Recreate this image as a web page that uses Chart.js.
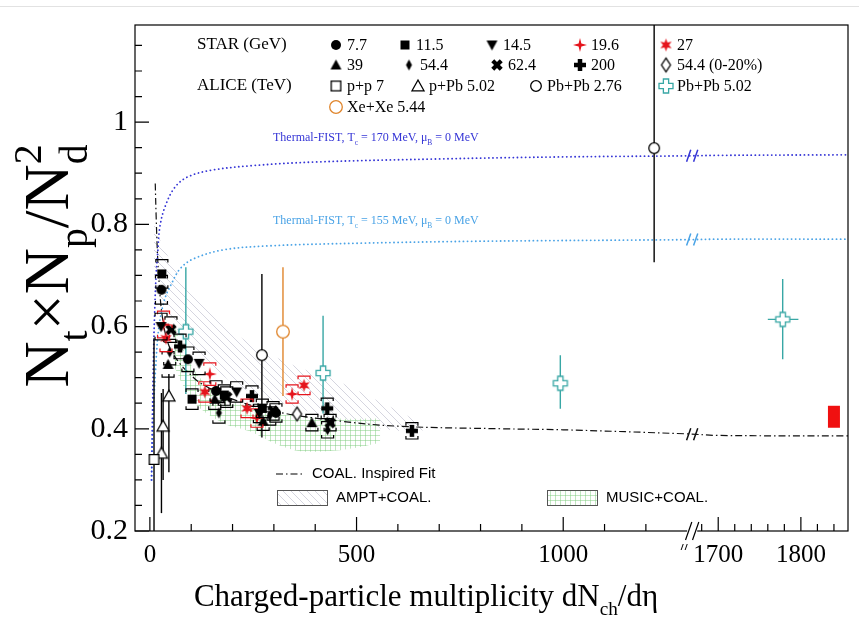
<!DOCTYPE html>
<html lang="en">
<head>
<meta charset="UTF-8">
<title>Nt x Np / Nd^2 vs dNch/deta</title>
<script src="https://cdn.jsdelivr.net/npm/chart.js"></script>
<style>
  body { margin: 0; background: #fff; }
  #wrap { position: relative; width: 859px; height: 631px; }
  #topline { position: absolute; left: 0; top: 6px; width: 859px; height: 1px; background: #e2e2e2; }
  canvas { position: absolute; left: 0; top: 0; }
</style>
</head>
<body>
<div id="wrap">
  <div id="topline"></div>
  <canvas id="grafico" width="859" height="631"></canvas>
</div>
<script>
// ---- values: x = dNch/deta, y = Nt*Np/Nd^2 ----
// STAR Au+Au (GeV), with systematic half-widths
const star7_7_x = [28, 92, 160, 305];
const star7_7_y = [0.672, 0.536, 0.474, 0.431];
const star7_7_sys = [0.028, 0.024, 0.02, 0.018];
const star11_5_x = [29, 102, 180, 272];
const star11_5_y = [0.703, 0.458, 0.466, 0.440];
const star11_5_sys = [0.028, 0.02, 0.02, 0.018];
const star14_5_x = [27, 119, 210, 265];
const star14_5_y = [0.600, 0.528, 0.472, 0.430];
const star14_5_sys = [0.026, 0.022, 0.02, 0.018];
const star19_6_x = [33, 145, 259, 344];
const star19_6_y = [0.604, 0.507, 0.421, 0.468];
const star19_6_sys = [0.026, 0.022, 0.018, 0.018];
const star27_x = [39, 133, 235, 373];
const star27_y = [0.577, 0.472, 0.440, 0.485];
const star27_sys = [0.026, 0.02, 0.018, 0.018];
const star39_x = [44, 157, 274, 392];
const star39_y = [0.526, 0.458, 0.415, 0.412];
const star39_sys = [0.025, 0.02, 0.018, 0.016];
const star54_x = [48, 167, 290, 430];
const star54_y = [0.550, 0.431, 0.425, 0.398];
const star54_sys = [0.025, 0.02, 0.018, 0.016];
const star62_x = [51, 186, 298, 436];
const star62_y = [0.594, 0.462, 0.435, 0.412];
const star62_sys = [0.025, 0.02, 0.018, 0.016];
const star200_x = [73, 247, 429, 634];
const star200_y = [0.561, 0.464, 0.440, 0.396];
const star200_sys = [0.024, 0.02, 0.02, 0.016];
const star54c_x = [356];
const star54c_y = [0.429];

// ALICE (TeV), with statistical error limits
const pp7_x = [10];
const pp7_y = [0.340];
const pp7_lo = [0.15];
const pp7_hi = [0.577];
const pPb_x = [28, 32, 46];
const pPb_y = [0.352, 0.405, 0.464];
const pPb_lo = [0.235, 0.30, 0.315];
const pPb_hi = [0.47, 0.478, 0.507];
const PbPb276_x = [271, 1220];
const PbPb276_y = [0.544, 0.949];
const PbPb276_lo = [0.383, 0.726];
const PbPb276_hi = [0.703, 1.30];
const PbPb502_x = [87, 419, 993, 1778];
const PbPb502_y = [0.590, 0.509, 0.489, 0.614];
const PbPb502_lo = [0.468, 0.430, 0.439, 0.536];
const PbPb502_hi = [0.716, 0.621, 0.544, 0.693];
const PbPb502_xlo = [70, 403, 977, 1760];
const PbPb502_xhi = [104, 435, 1009, 1797];
const XeXe_x = [322];
const XeXe_y = [0.590];
const XeXe_lo = [0.464];
const XeXe_hi = [0.716];

// red box at the right edge
const redBox_x = [1840, 1840];
const redBox_y = [0.402, 0.445];

// model curves and bands
const fist170_x = [4, 6, 9, 12, 15, 19, 24, 36, 60, 92, 150, 250, 400, 700, 1000, 1300, 1700, 1857];
const fist170_y = [0.30, 0.42, 0.55, 0.64, 0.70, 0.746, 0.794, 0.833, 0.872, 0.893, 0.906, 0.915, 0.922, 0.928, 0.932, 0.934, 0.935, 0.936];
const fist155_x = [4, 8, 14, 22, 36, 53, 73, 104, 177, 290, 500, 800, 1300, 1700, 1857];
const fist155_y = [0.30, 0.42, 0.52, 0.60, 0.654, 0.685, 0.713, 0.732, 0.750, 0.758, 0.763, 0.767, 0.770, 0.771, 0.771];
const coal_x = [13, 15, 18, 22, 30, 45, 70, 97, 121, 200, 315, 450, 600, 850, 1000, 1300, 1700, 1857];
const coal_y = [0.88, 0.82, 0.75, 0.69, 0.62, 0.565, 0.53, 0.507, 0.49, 0.458, 0.432, 0.416, 0.405, 0.400, 0.398, 0.390, 0.387, 0.386];
const ampt_x = [10, 30, 70, 128, 200, 280, 360, 436, 564, 660];
const ampt_hi = [0.80, 0.76, 0.70, 0.64, 0.59, 0.55, 0.52, 0.50, 0.45, 0.41];
const ampt_lo = [0.70, 0.65, 0.59, 0.54, 0.49, 0.46, 0.44, 0.42, 0.40, 0.39];
const music_x = [60, 90, 121, 180, 242, 300, 363, 460, 557];
const music_hi = [0.60, 0.54, 0.50, 0.46, 0.445, 0.43, 0.425, 0.42, 0.42];
const music_lo = [0.52, 0.47, 0.44, 0.41, 0.395, 0.372, 0.356, 0.358, 0.372];

// axis
const yTicks = [0.2, 0.25, 0.3, 0.35, 0.4, 0.45, 0.5, 0.55, 0.6, 0.65, 0.7, 0.75, 0.8, 0.85, 0.9, 0.95, 1, 1.05, 1.1, 1.15];
const yLabels = [0.2, 0.4, 0.6, 0.8, 1];
const xTicks = [0, 100, 200, 300, 400, 500, 600, 700, 800, 900, 1000, 1100, 1200, 1680, 1700, 1720, 1740, 1760, 1780, 1800, 1820, 1840];
const xLabels = [0, 500, 1000, 1700, 1800];

// the x axis is cut: above the break one unit takes twice the room
const BREAK = 1312;
function mapX(x) { return x < 1500 ? x : 2 * x - 2025; }
function realX(v) { return v > BREAK ? (v + 2025) / 2 : v; }

const RED = '#e5141c', CYAN = '#38a7a5', ORANGE = '#e0852c', BLUE1 = '#3535d6', BLUE2 = '#4aa3e6';
const SERIF = '"Liberation Serif", "DejaVu Serif", serif';
const SANS = '"Liberation Sans", Arial, sans-serif';

function poly(g, p) { g.moveTo(p[0][0], p[0][1]); for (let i = 1; i < p.length; i++) g.lineTo(p[i][0], p[i][1]); g.closePath(); }
function starPoly(g, n, ro, ri) {
  const p = [];
  for (let i = 0; i < 2 * n; i++) {
    const a = -Math.PI / 2 + i * Math.PI / n, r = i % 2 ? ri : ro;
    p.push([r * Math.cos(a), r * Math.sin(a)]);
  }
  poly(g, p);
}
function crossPoly(g, r, t, rot) {
  const h = t / 2;
  const p = [[-h, -r], [h, -r], [h, -h], [r, -h], [r, h], [h, h], [h, r], [-h, r], [-h, h], [-r, h], [-r, -h], [-h, -h]];
  poly(g, p.map(([x, y]) => [x * Math.cos(rot) - y * Math.sin(rot), x * Math.sin(rot) + y * Math.cos(rot)]));
}
function makeMarker(shape, color, size) {
  const c = document.createElement('canvas');
  const n = Math.ceil(size) + 4;
  c.width = n; c.height = n;
  const g = c.getContext('2d');
  const r = size / 2;
  g.translate(n / 2, n / 2);
  g.fillStyle = color; g.strokeStyle = color; g.lineWidth = 1.3;
  g.beginPath();
  if (shape === 'circle') g.arc(0, 0, r, 0, Math.PI * 2);
  else if (shape === 'circleOpen') g.arc(0, 0, r - 0.7, 0, Math.PI * 2);
  else if (shape === 'square') g.rect(-r, -r, size, size);
  else if (shape === 'squareOpen') g.rect(-r + 0.7, -r + 0.7, size - 1.4, size - 1.4);
  else if (shape === 'triUp' || shape === 'triOpen') poly(g, [[0, -r], [r, r * 0.8], [-r, r * 0.8]]);
  else if (shape === 'triDown') poly(g, [[0, r], [r, -r * 0.8], [-r, -r * 0.8]]);
  else if (shape === 'diamond') poly(g, [[0, -r], [r * 0.55, 0], [0, r], [-r * 0.55, 0]]);
  else if (shape === 'diamondOpen') poly(g, [[0, -r + 0.7], [r * 0.6, 0], [0, r - 0.7], [-r * 0.6, 0]]);
  else if (shape === 'star4') starPoly(g, 4, r, r * 0.28);
  else if (shape === 'star6') starPoly(g, 6, r, r * 0.45);
  else if (shape === 'plus' || shape === 'plusOpen') crossPoly(g, r, r * 0.75, 0);
  else if (shape === 'xcross') crossPoly(g, r, r * 0.7, Math.PI / 4);
  if (shape.endsWith('Open')) { g.fillStyle = '#fff'; g.fill(); g.stroke(); } else g.fill();
  return c;
}

const mk = {
  circle: makeMarker('circle', '#000', 10),
  square: makeMarker('square', '#000', 9),
  triDown: makeMarker('triDown', '#000', 11),
  star4: makeMarker('star4', RED, 14),
  star6: makeMarker('star6', RED, 13),
  triUp: makeMarker('triUp', '#000', 11),
  diamond: makeMarker('diamond', '#000', 11),
  xcross: makeMarker('xcross', '#000', 12),
  plus: makeMarker('plus', '#000', 12),
  diamondOpen: makeMarker('diamondOpen', '#000', 15),
  squareOpen: makeMarker('squareOpen', '#000', 11),
  triOpen: makeMarker('triOpen', '#000', 12),
  circleOpen: makeMarker('circleOpen', '#000', 12),
  circleOrange: makeMarker('circleOpen', ORANGE, 14),
  crossCyan: makeMarker('plusOpen', CYAN, 14)
};

function hatch(kind, color) {
  const c = document.createElement('canvas');
  const s = kind === 'diag' ? 8 : 5;
  c.width = s; c.height = s;
  const g = c.getContext('2d');
  g.fillStyle = 'rgba(255,255,255,0.35)';
  g.fillRect(0, 0, s, s);
  g.strokeStyle = color; g.lineWidth = 1;
  g.beginPath();
  if (kind === 'diag') {
    for (let i = -1; i <= 1; i++) { g.moveTo(i * s, 0); g.lineTo(i * s + s, s); }
  } else {
    g.moveTo(0.5, 0); g.lineTo(0.5, s);
    g.moveTo(0, 0.5); g.lineTo(s, 0.5);
  }
  g.stroke();
  return g.createPattern(c, 'repeat');
}
const amptFill = hatch('diag', 'rgba(150,150,175,0.4)');
const musicFill = hatch('grid', 'rgba(130,205,130,0.5)');

function pts(xs, ys) { return xs.map((x, i) => ({ x: mapX(x), y: ys[i] })); }
function markers(label, xs, ys, style, color, extra) {
  return Object.assign({ label, data: pts(xs, ys), pointStyle: style, pointRadius: 5, showLine: false, barColor: color, order: 1 }, extra);
}
function curve(label, xs, ys, color, dash, width, extra) {
  return Object.assign({ label, data: pts(xs, ys), showLine: true, borderColor: color, borderWidth: width, borderDash: dash,
    borderCapStyle: 'round', pointRadius: 0, tension: 0.35, fill: false, order: 5 }, extra);
}

const datasets = [
  // bands (drawn first)
  { label: 'AMPT+COAL.', data: pts(ampt_x, ampt_hi), showLine: true, borderWidth: 0, pointRadius: 0, tension: 0.3, fill: '+1', backgroundColor: amptFill, order: 10 },
  { label: 'AMPT low', data: pts(ampt_x, ampt_lo), showLine: true, borderWidth: 0, pointRadius: 0, tension: 0.3, fill: false, order: 10 },
  { label: 'MUSIC+COAL.', data: pts(music_x, music_hi), showLine: true, borderWidth: 0, pointRadius: 0, tension: 0.3, fill: '+1', backgroundColor: musicFill, order: 9 },
  { label: 'MUSIC low', data: pts(music_x, music_lo), showLine: true, borderWidth: 0, pointRadius: 0, tension: 0.3, fill: false, order: 9 },
  // curves
  curve('Thermal-FIST 170', fist170_x, fist170_y, BLUE1, [0.1, 4], 1.8, { breakMark: true }),
  curve('Thermal-FIST 155', fist155_x, fist155_y, BLUE2, [0.1, 4], 1.8, { breakMark: true }),
  curve('COAL. Inspired Fit', coal_x, coal_y, '#111', [7, 3, 1.5, 3], 1.2, { breakMark: true, borderCapStyle: 'butt' }),
  curve('box', redBox_x, redBox_y, '#f01010', [], 12, { borderCapStyle: 'butt', tension: 0, order: 2 }),
  // STAR
  markers('7.7', star7_7_x, star7_7_y, mk.circle, '#000', { sys: star7_7_sys }),
  markers('11.5', star11_5_x, star11_5_y, mk.square, '#000', { sys: star11_5_sys }),
  markers('14.5', star14_5_x, star14_5_y, mk.triDown, '#000', { sys: star14_5_sys }),
  markers('19.6', star19_6_x, star19_6_y, mk.star4, RED, { sys: star19_6_sys }),
  markers('27', star27_x, star27_y, mk.star6, RED, { sys: star27_sys }),
  markers('39', star39_x, star39_y, mk.triUp, '#000', { sys: star39_sys }),
  markers('54.4', star54_x, star54_y, mk.diamond, '#000', { sys: star54_sys }),
  markers('62.4', star62_x, star62_y, mk.xcross, '#000', { sys: star62_sys }),
  markers('200', star200_x, star200_y, mk.plus, '#000', { sys: star200_sys }),
  markers('54.4 (0-20%)', star54c_x, star54c_y, mk.diamondOpen, '#000'),
  // ALICE
  markers('p+p 7', pp7_x, pp7_y, mk.squareOpen, '#000', { errLo: pp7_lo, errHi: pp7_hi }),
  markers('p+Pb 5.02', pPb_x, pPb_y, mk.triOpen, '#000', { errLo: pPb_lo, errHi: pPb_hi }),
  markers('Pb+Pb 2.76', PbPb276_x, PbPb276_y, mk.circleOpen, '#000', { errLo: PbPb276_lo, errHi: PbPb276_hi }),
  markers('Pb+Pb 5.02', PbPb502_x, PbPb502_y, mk.crossCyan, CYAN, { errLo: PbPb502_lo, errHi: PbPb502_hi, errXLo: PbPb502_xlo, errXHi: PbPb502_xhi }),
  markers('Xe+Xe 5.44', XeXe_x, XeXe_y, mk.circleOrange, ORANGE, { errLo: XeXe_lo, errHi: XeXe_hi })
];

// error bars and systematic brackets, under each marker set
const errorBars = {
  id: 'errorBars',
  beforeDatasetDraw(chart, args) {
    const ds = chart.data.datasets[args.index];
    if (!ds.errLo && !ds.sys) return;
    const ctx = chart.ctx, xs = chart.scales.x, ys = chart.scales.y, a = chart.chartArea;
    ctx.save();
    ctx.beginPath();
    ctx.rect(a.left, a.top, a.right - a.left, a.bottom - a.top);
    ctx.clip();
    ctx.strokeStyle = ds.barColor;
    ds.data.forEach((p, i) => {
      const px = xs.getPixelForValue(p.x), py = ys.getPixelForValue(p.y);
      ctx.lineWidth = 1.4;
      ctx.beginPath();
      if (ds.errLo) {
        ctx.moveTo(px, ys.getPixelForValue(ds.errLo[i]));
        ctx.lineTo(px, ys.getPixelForValue(ds.errHi[i]));
      }
      if (ds.errXLo) {
        ctx.moveTo(xs.getPixelForValue(mapX(ds.errXLo[i])), py);
        ctx.lineTo(xs.getPixelForValue(mapX(ds.errXHi[i])), py);
      }
      ctx.stroke();
      if (ds.sys) {
        const w = 6, h = 3;
        const yt = ys.getPixelForValue(p.y + ds.sys[i]), yb = ys.getPixelForValue(p.y - ds.sys[i]);
        ctx.lineWidth = 1.2;
        ctx.beginPath();
        ctx.moveTo(px - w, yt + h); ctx.lineTo(px - w, yt); ctx.lineTo(px + w, yt); ctx.lineTo(px + w, yt + h);
        ctx.moveTo(px - w, yb - h); ctx.lineTo(px - w, yb); ctx.lineTo(px + w, yb); ctx.lineTo(px + w, yb - h);
        ctx.stroke();
      }
    });
    ctx.restore();
  }
};

function yAt(data, x) {
  for (let i = 1; i < data.length; i++) {
    if (data[i].x >= x) {
      const p = data[i - 1], q = data[i];
      return p.y + (q.y - p.y) * (x - p.x) / (q.x - p.x);
    }
  }
  return data[data.length - 1].y;
}
function slash2(ctx, x, y, h, gap) {
  ctx.beginPath();
  ctx.moveTo(x - gap / 2 - h * 0.35, y + h); ctx.lineTo(x - gap / 2 + h * 0.35, y - h);
  ctx.moveTo(x + gap / 2 - h * 0.35, y + h); ctx.lineTo(x + gap / 2 + h * 0.35, y - h);
  ctx.stroke();
}

// text with sub/superscripts: parts = [text, kind]
function drawRich(ctx, parts, x, y, size, family, color, align) {
  const small = size * 0.62;
  let cur = 0, prevStart = 0;
  const items = parts.map(([t, k]) => {
    const fs = k ? small : size;
    ctx.font = fs + 'px ' + family;
    const w = ctx.measureText(t).width;
    let start = cur;
    if (k === 'supSame') start = prevStart;
    const dy = k === 'sub' ? size * 0.3 : (k === 'sup' || k === 'supSame') ? -size * 0.42 : 0;
    const item = { t, fs, start, dy };
    prevStart = start;
    cur = Math.max(cur, start + w);
    return item;
  });
  const x0 = align === 'center' ? x - cur / 2 : x;
  ctx.fillStyle = color;
  ctx.textAlign = 'left';
  ctx.textBaseline = 'alphabetic';
  items.forEach(it => {
    ctx.font = it.fs + 'px ' + family;
    ctx.fillText(it.t, x0 + it.start, y + it.dy);
  });
}

const decorations = {
  id: 'decorations',
  afterDraw(chart) {
    const ctx = chart.ctx, a = chart.chartArea, xs = chart.scales.x, ys = chart.scales.y;
    ctx.save();
    // frame and inward ticks
    ctx.strokeStyle = '#000';
    ctx.lineWidth = 1.2;
    ctx.strokeRect(a.left, a.top, a.right - a.left, a.bottom - a.top);
    ctx.beginPath();
    ys.ticks.forEach(t => {
      const y = ys.getPixelForValue(t.value);
      ctx.moveTo(a.left, y); ctx.lineTo(a.left + (t.label ? 14 : 7), y);
    });
    xs.ticks.forEach(t => {
      const x = xs.getPixelForValue(t.value);
      ctx.moveTo(x, a.bottom); ctx.lineTo(x, a.bottom - (t.label ? 14 : 7));
    });
    ctx.stroke();

    // axis break
    const bx = xs.getPixelForValue(BREAK);
    ctx.fillStyle = '#fff';
    ctx.fillRect(bx - 5, a.bottom - 2, 10, 4);
    ctx.lineWidth = 1.2;
    slash2(ctx, bx, a.bottom, 9, 7);
    ctx.lineWidth = 1;
    slash2(ctx, bx - 8, a.bottom + 16, 3, 4);
    chart.data.datasets.forEach(ds => {
      if (!ds.breakMark) return;
      const y = ys.getPixelForValue(yAt(ds.data, BREAK));
      ctx.strokeStyle = ds.borderColor;
      ctx.lineWidth = 1.5;
      slash2(ctx, bx, y, 6, 7);
    });

    // top legend
    ctx.textBaseline = 'middle';
    ctx.textAlign = 'left';
    ctx.fillStyle = '#000';
    ctx.font = '17px ' + SERIF;
    ctx.fillText('STAR (GeV)', 197, 45);
    ctx.fillText('ALICE (TeV)', 197, 86);
    const items = [
      [336, 45, mk.circle, '7.7'], [405, 45, mk.square, '11.5'], [492, 45, mk.triDown, '14.5'], [580, 45, mk.star4, '19.6'], [666, 45, mk.star6, '27'],
      [336, 65, mk.triUp, '39'], [409, 65, mk.diamond, '54.4'], [497, 65, mk.xcross, '62.4'], [580, 65, mk.plus, '200'], [666, 65, mk.diamondOpen, '54.4 (0-20%)'],
      [336, 86, mk.squareOpen, 'p+p 7'], [418, 86, mk.triOpen, 'p+Pb 5.02'], [536, 86, mk.circleOpen, 'Pb+Pb 2.76'], [666, 86, mk.crossCyan, 'Pb+Pb 5.02'],
      [336, 107, mk.circleOrange, 'Xe+Xe 5.44']
    ];
    ctx.font = '16px ' + SERIF;
    items.forEach(([x, y, m, t]) => {
      ctx.drawImage(m, x - m.width / 2, y - m.height / 2);
      ctx.fillText(t, x + 11, y + 1);
    });

    // thermal model labels
    drawRich(ctx, [['Thermal-FIST, T', ''], ['c', 'sub'], [' = 170 MeV, \u03bc', ''], ['B', 'sub'], [' = 0 MeV', '']], 273, 141, 12, SERIF, BLUE1, 'left');
    drawRich(ctx, [['Thermal-FIST, T', ''], ['c', 'sub'], [' = 155 MeV, \u03bc', ''], ['B', 'sub'], [' = 0 MeV', '']], 273, 224, 12, SERIF, BLUE2, 'left');

    // bottom legend
    ctx.font = '15px ' + SANS;
    ctx.fillStyle = '#000';
    ctx.textBaseline = 'middle';
    ctx.strokeStyle = '#000';
    ctx.lineWidth = 1.2;
    ctx.setLineDash([7, 3, 1.5, 3]);
    ctx.beginPath(); ctx.moveTo(276, 474); ctx.lineTo(304, 474); ctx.stroke();
    ctx.setLineDash([]);
    ctx.fillText('COAL. Inspired Fit', 312, 474);
    ctx.lineWidth = 1;
    ctx.strokeStyle = '#555';
    ctx.fillStyle = amptFill; ctx.fillRect(277, 490, 50, 15);
    ctx.strokeRect(277.5, 490.5, 50, 15);
    ctx.fillStyle = musicFill; ctx.fillRect(547, 490, 50, 15);
    ctx.strokeRect(547.5, 490.5, 50, 15);
    ctx.fillStyle = '#000';
    ctx.fillText('AMPT+COAL.', 336, 498);
    ctx.fillText('MUSIC+COAL.', 606, 498);

    // axis titles
    drawRich(ctx, [['Charged-particle multiplicity dN', ''], ['ch', 'sub'], ['/d\u03b7', '']], 426, 606, 31, SERIF, '#000', 'center');
    ctx.translate(68, 266);
    ctx.rotate(-Math.PI / 2);
    drawRich(ctx, [['N', ''], ['t', 'sub'], ['\u00d7N', ''], ['p', 'sub'], ['/N', ''], ['d', 'sub'], ['2', 'supSame']], 0, 0, 64, SERIF, '#000', 'center');
    ctx.restore();
  }
};

new Chart(document.getElementById('grafico'), {
  type: 'scatter',
  data: { datasets },
  options: {
    responsive: false,
    animation: false,
    events: [],
    devicePixelRatio: 1,
    layout: { padding: { top: 22, right: 11, left: 0, bottom: 0 } },
    plugins: { legend: { display: false }, tooltip: { enabled: false } },
    scales: {
      x: {
        type: 'linear',
        min: -36,
        max: 1689,
        grid: { display: false, drawTicks: false },
        border: { display: false },
        afterBuildTicks: s => { s.ticks = xTicks.map(v => ({ value: mapX(v) })); },
        afterFit: s => { s.height = 100; },
        ticks: {
          autoSkip: false,
          maxRotation: 0,
          padding: 9,
          color: '#000',
          font: { family: SERIF, size: 25 },
          callback: v => {
            const r = Math.round(realX(v));
            return xLabels.includes(r) ? String(r) : '';
          }
        }
      },
      y: {
        type: 'linear',
        min: 0.2,
        max: 1.19,
        grid: { display: false, drawTicks: false },
        border: { display: false },
        afterBuildTicks: s => { s.ticks = yTicks.map(v => ({ value: v })); },
        afterFit: s => { s.width = 135; },
        ticks: {
          autoSkip: false,
          padding: 7,
          color: '#000',
          font: { family: SERIF, size: 30 },
          callback: v => {
            const r = Math.round(v * 100) / 100;
            return yLabels.includes(r) ? String(r) : '';
          }
        }
      }
    }
  },
  plugins: [errorBars, decorations]
});
</script>
</body>
</html>
